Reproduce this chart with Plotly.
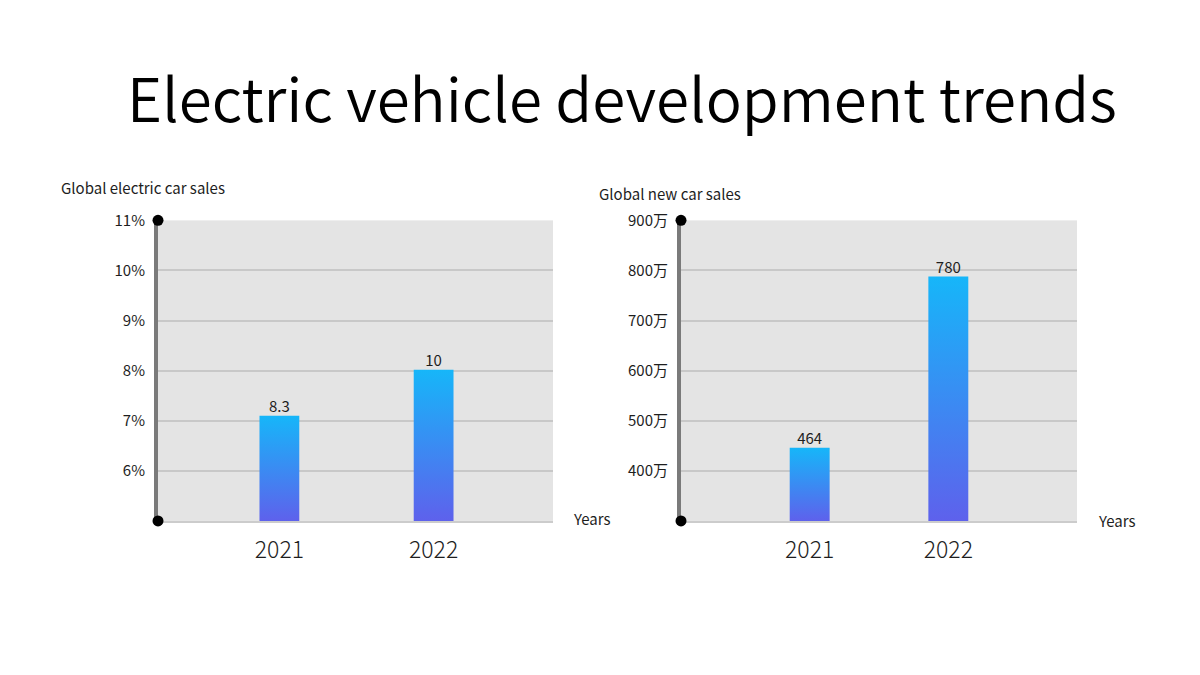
import plotly.graph_objects as go

# ---- data ----
years = ["2021", "2022"]
share_bar = [7.1, 8.02]          # bar heights read on left axis (%)
share_label = ["8.3", "10"]      # labels printed above bars
share_ticks = [6, 7, 8, 9, 10, 11]
share_ticktext = ["6%", "7%", "8%", "9%", "10%", "11%"]

new_bar = [446, 788]             # bar heights read on right axis (万)
new_label = ["464", "780"]
new_ticks = [400, 500, 600, 700, 800, 900]
new_ticktext = ["400万", "500万", "600万", "700万", "800万", "900万"]

FONT = "Noto Sans CJK SC"
W, H = 1200, 675
OFF = 8          # page body margin offset
TOP_C = "#16b6f9"
BOT_C = "#5e61ec"
TXT = "#1e1e1e"


def py(px):
    return 1 - (px - OFF) / H


def pxx(px):
    return (px - OFF) / W


fig = go.Figure()

panels = [
    dict(xa="x", ya="y", bars=share_bar, labels=share_label, yr=[5, 11], xr=[-0.787, 1.774],
         hw=0.129),
    dict(xa="x2", ya="y2", bars=new_bar, labels=new_label, yr=[300, 900], xr=[-0.928, 1.928],
         hw=0.144),
]

for p in panels:
    base = p["yr"][0]
    for i, v in enumerate(p["bars"]):
        fig.add_trace(go.Scatter(
            x=[i - p["hw"], i + p["hw"], i + p["hw"], i - p["hw"], i - p["hw"]],
            y=[base, base, v, v, base],
            mode="lines", fill="toself", line=dict(width=0),
            fillgradient=dict(type="vertical", colorscale=[[0, BOT_C], [1, TOP_C]]),
            xaxis=p["xa"], yaxis=p["ya"], hoverinfo="skip", showlegend=False,
        ))
    fig.add_trace(go.Scatter(
        x=list(range(len(p["bars"]))), y=p["bars"], mode="text", text=p["labels"],
        textposition="top center", textfont=dict(family=FONT, size=15, color=TXT),
        xaxis=p["xa"], yaxis=p["ya"], showlegend=False, cliponaxis=False, hoverinfo="skip",
    ))
    fig.add_trace(go.Scatter(
        x=[p["xr"][0], p["xr"][0]], y=p["yr"], mode="markers",
        marker=dict(color="black", size=11),
        xaxis=p["xa"], yaxis=p["ya"], showlegend=False, cliponaxis=False, hoverinfo="skip",
    ))

common_y = dict(showgrid=True, gridcolor="#c8c8c8", gridwidth=1.5, showline=True,
                linecolor="#7a7a7a", linewidth=4, zeroline=False, layer="below traces",
                tickfont=dict(family=FONT, size=15, color=TXT), ticks="",
                ticklabelstandoff=6)
common_x = dict(showgrid=False, showline=True, linecolor="#cccccc", linewidth=2,
                zeroline=False, tickvals=[0, 1], ticktext=years, ticks="", layer="below traces",
                tickfont=dict(family=FONT, size=23, color=TXT, weight=300),
                ticklabelstandoff=7)

fig.update_layout(
    width=W, height=H,
    margin=dict(l=0, r=0, t=0, b=0),
    paper_bgcolor="white", plot_bgcolor="#e4e4e4",
    xaxis=dict(domain=[pxx(158), pxx(553)], range=panels[0]["xr"], anchor="y", **common_x),
    yaxis=dict(domain=[py(518), py(212)], range=panels[0]["yr"], anchor="x",
               tickvals=share_ticks, ticktext=share_ticktext, **common_y),
    xaxis2=dict(domain=[pxx(681), pxx(1077)], range=panels[1]["xr"], anchor="y2", **common_x),
    yaxis2=dict(domain=[py(518), py(212)], range=panels[1]["yr"], anchor="x2",
                tickvals=new_ticks, ticktext=new_ticktext, **common_y),
    annotations=[
        dict(text="Electric vehicle development trends", x=pxx(622), y=py(85),
             xref="paper", yref="paper", showarrow=False, xanchor="center", yanchor="middle",
             font=dict(family=FONT, size=60, color="black", weight=350)),
        dict(text="Global electric car sales", x=pxx(59), y=py(179), xref="paper", yref="paper",
             showarrow=False, xanchor="left", yanchor="middle",
             font=dict(family=FONT, size=15, color=TXT)),
        dict(text="Global new car sales", x=pxx(597), y=py(185), xref="paper", yref="paper",
             showarrow=False, xanchor="left", yanchor="middle",
             font=dict(family=FONT, size=15, color=TXT)),
        dict(text="Years", x=pxx(571), y=py(516), xref="paper", yref="paper",
             showarrow=False, xanchor="left", yanchor="middle",
             font=dict(family=FONT, size=15, color=TXT)),
        dict(text="Years", x=pxx(1096), y=py(518), xref="paper", yref="paper",
             showarrow=False, xanchor="left", yanchor="middle",
             font=dict(family=FONT, size=15, color=TXT)),
    ],
)

fig.write_html("out.html")
